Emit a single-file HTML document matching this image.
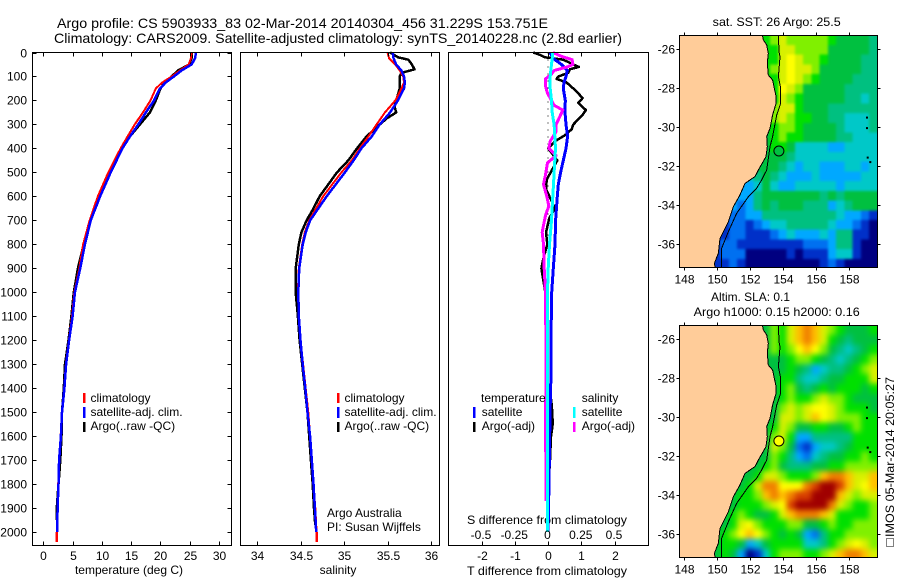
<!DOCTYPE html>
<html>
<head>
<meta charset="utf-8">
<title>Argo profile</title>
<style>
html,body{margin:0;padding:0;background:#fff;}
svg{display:block;}
text{font-family:"Liberation Sans",sans-serif;font-size:12px;fill:#000;}
.t{font-size:14px;}
</style>
</head>
<body>
<svg id="chart" xmlns="http://www.w3.org/2000/svg" width="900" height="580" viewBox="0 0 900 580">
<rect x="0" y="0" width="900" height="580" fill="#fff"/>
<text class="t" x="57" y="28" textLength="491" lengthAdjust="spacingAndGlyphs">Argo profile: CS 5903933_83 02-Mar-2014 20140304_456 31.229S 153.751E</text>
<text class="t" x="54" y="43" textLength="568" lengthAdjust="spacingAndGlyphs">Climatology: CARS2009. Satellite-adjusted climatology: synTS_20140228.nc (2.8d earlier)</text>
<defs>
<clipPath id="clip-sst"><rect x="680" y="36" width="197" height="231"/></clipPath>
<clipPath id="clip-sla"><rect x="680" y="326" width="197" height="231"/></clipPath>
<filter id="blur-sst" filterUnits="userSpaceOnUse" x="640" y="0" width="260" height="300" color-interpolation-filters="sRGB"><feGaussianBlur stdDeviation="1.3"/></filter>
<filter id="blur-sla" filterUnits="userSpaceOnUse" x="640" y="290" width="260" height="290" color-interpolation-filters="sRGB"><feGaussianBlur stdDeviation="3"/></filter>
</defs>
<text x="129" y="574" text-anchor="middle">temperature (deg C)</text>
<text x="338" y="574" text-anchor="middle">salinity</text>
<text x="547" y="575" text-anchor="middle" textLength="160" lengthAdjust="spacingAndGlyphs">T difference from climatology</text>
<text x="547" y="524" text-anchor="middle" textLength="160" lengthAdjust="spacingAndGlyphs">S difference from climatology</text>
<text x="327" y="517">Argo Australia</text>
<text x="327" y="531">PI: Susan Wijffels</text>
<text x="712.7" y="26" textLength="128" lengthAdjust="spacingAndGlyphs">sat. SST: 26 Argo: 25.5</text>
<text x="711" y="301" textLength="79" lengthAdjust="spacingAndGlyphs">Altim. SLA: 0.1</text>
<text x="693.7" y="316" textLength="166" lengthAdjust="spacingAndGlyphs">Argo h1000: 0.15 h2000: 0.16</text>
<text transform="translate(894,537) rotate(-90)" textLength="160" lengthAdjust="spacingAndGlyphs">IMOS 05-Mar-2014 20:05:27</text>
<rect x="886.5" y="538.5" width="7" height="8" fill="none" stroke="#000" stroke-width="1" stroke-dasharray="1 1" shape-rendering="crispEdges"/>
</svg>
<script>
// ---- profile data ----
const depths = [0,25,50,75,100,125,150,200,250,300,350,400,500,600,700,800,900,1000,1100,1200,1300,1400,1500,1600,1700,1800,1900,2000];
const tempClim = [25.3,25.2,24.8,23.3,21.9,20.3,19.2,18.3,17.0,15.6,14.4,13.2,11.1,9.3,7.9,6.8,6.15,5.3,4.9,4.35,3.85,3.55,3.2,2.95,2.7,2.55,2.4,2.3];
const tempSat = [26.07,25.9,25.3,23.6,22.3,20.9,19.9,18.9,17.5,16.2,14.8,13.5,11.5,9.7,8.1,7.1,6.3,5.4,5.0,4.4,3.9,3.6,3.2,3.0,2.7,2.6,2.45,2.35];
const tempArgoDepths = [0,25,50,75,100,125,150,200,250,300,350,400,500,600,700,800,900,1000,1100,1200,1300,1400,1500,1600,1700,1800,1900,1950];
const tempArgo = [25.3,25.3,24.9,23.0,21.9,20.8,20.0,19.2,18.2,16.5,14.8,13.5,11.3,9.5,8.0,6.9,5.9,5.2,4.8,4.3,3.7,3.5,3.2,3.1,2.9,2.6,2.3,2.3];

const salDepths = [0,25,50,75,100,125,150,200,250,300,350,400,450,500,600,700,750,800,900,1000,1100,1200,1300,1400,1500,1600,1700,1800,1900,2000];
const salClim = [35.5,35.52,35.59,35.64,35.68,35.69,35.66,35.59,35.47,35.375,35.28,35.18,35.09,34.97,34.76,34.6,34.55,34.52,34.48,34.47,34.48,34.5,34.53,34.56,34.59,34.61,34.63,34.65,34.67,34.685];
const salSat = [35.56,35.57,35.6,35.66,35.69,35.7,35.69,35.62,35.53,35.41,35.32,35.2,35.11,35.01,34.8,34.61,34.56,34.525,34.485,34.475,34.48,34.5,34.525,34.555,34.58,34.61,34.63,34.65,34.665,34.68];
const salArgoDepths = [0,20,30,50,70,85,100,150,200,225,250,275,300,350,400,450,500,550,600,650,700,750,800,900,1000,1100,1200,1300,1400,1500,1600,1700,1800,1900,1970];
const salArgo = [35.53,35.62,35.74,35.78,35.81,35.66,35.64,35.64,35.6,35.58,35.6,35.49,35.41,35.26,35.15,35.05,34.92,34.82,34.72,34.65,34.57,34.51,34.48,34.445,34.445,34.47,34.49,34.52,34.55,34.58,34.6,34.62,34.64,34.655,34.67];

const diffDepths = [0,25,50,75,100,125,150,200,250,300,350,400,450,500,550,600,700,800,900,1000,1100,1200,1300,1400,1500,1600,1800,2000];
const tDiffSat = [0.06,0.16,0.41,0.58,0.54,0.48,0.46,0.52,0.51,0.54,0.59,0.54,0.46,0.38,0.31,0.28,0.23,0.21,0.16,0.11,0.1,0.09,0.09,0.08,0.06,0.05,0.03,0];
const sDiffSat = [0.04,0.035,0.03,0.025,0.02,0.02,0.02,0.03,0.035,0.05,0.055,0.06,0.055,0.05,0.045,0.04,0.03,0.015,0.005,0,0,0,0,0,0,0,0,0];
const tDiffArgoDepths = [0,10,20,30,40,50,60,70,85,100,110,125,150,175,190,210,240,260,300,320,345,370,400,450,480,530,570,620,650,690,750,800,860,900,950,1000,1100,1200,1300,1400,1450,1500,1550,1600,1700,1750,1800];
const tDiffArgo = [-0.44,-0.24,-0.09,0.46,0.61,0.76,0.93,0.66,0.61,0.31,0.26,0.56,0.76,0.94,1.04,0.91,1.14,1.04,0.76,0.71,0.51,0.21,0.01,0.28,0.16,-0.04,-0.06,0.11,0.21,0.04,-0.06,-0.02,-0.14,-0.2,-0.14,-0.08,-0.06,-0.06,-0.04,-0.02,0.1,0.13,0.14,0.09,0.06,0.04,0.02];
const sDiffArgoDepths = [0,15,30,50,60,75,90,110,140,170,190,220,240,270,300,330,370,400,430,460,510,550,600,640,680,720,750,800,900,1000,1100,1200,1300,1400,1500,1600,1700,1750,1870];
const sDiffArgo = [0.04,0.1,0.185,0.19,0.15,0.05,0.03,-0.015,-0.015,0,0.02,0.05,0.115,0.09,0.065,0.065,0.02,0.01,0.065,0,-0.015,-0.03,-0.005,0.01,-0.015,-0.03,-0.04,-0.03,-0.025,-0.015,-0.015,-0.01,-0.01,-0.012,-0.015,-0.015,-0.012,-0.01,-0.01];

// ---- tick labels ----
const depthTicks = [0,100,200,300,400,500,600,700,800,900,1000,1100,1200,1300,1400,1500,1600,1700,1800,1900,2000];
const tempTicks = [0,5,10,15,20,25,30];
const salTicks = [34,34.5,35,35.5,36];
const tDiffTicks = [-2,-1,0,1,2];
const sDiffTicks = [-0.5,-0.25,0,0.25,0.5];
const lonTicks = [148,150,152,154,156,158];
const latTicks = [-26,-28,-30,-32,-34,-36];

// ---- map data: colour level per grid cell ----
const mapLons = [147.97,148.47,148.97,149.47,149.97,150.47,150.97,151.47,151.97,152.47,152.97,153.47,153.97,154.47,154.97,155.47,155.97,156.47,156.97,157.47,157.97,158.47,158.97,159.47];
const mapLats = [-25.53,-26.03,-26.53,-27.03,-27.53,-28.03,-28.53,-29.03,-29.53,-30.03,-30.53,-31.03,-31.53,-32.03,-32.53,-33.03,-33.53,-34.03,-34.53,-35.03,-35.53,-36.03,-36.53,-37.03];
const sstLevels = [
[7,7,7,7,7,7,7,7,7,7,7,8,9,8,8,8,8,8,7,6,6,6,6,5],
[7,7,7,7,7,7,7,7,7,7,7,7,9,9,8,8,8,8,6,6,6,6,6,5],
[7,7,7,7,7,7,7,7,7,7,7,7,9,10,9,8,8,7,6,6,6,6,5,5],
[7,7,7,7,7,7,7,7,7,7,7,8,9,10,9,9,8,6,6,6,6,6,5,5],
[7,7,7,7,7,7,7,7,7,7,7,7,9,10,9,8,7,6,6,6,6,5,5,5],
[7,7,7,7,7,7,7,7,7,7,7,7,10,9,8,6,6,6,6,6,5,5,5,5],
[7,7,7,7,7,7,7,7,7,7,7,7,9,8,7,6,6,6,6,6,5,5,4,5],
[7,7,7,7,7,7,7,7,7,7,7,8,9,9,7,6,6,6,5,5,5,5,5,5],
[7,7,7,7,7,7,7,7,7,7,7,8,9,8,7,7,6,6,5,5,4,4,4,5],
[7,7,7,7,7,7,7,7,7,7,7,7,8,8,7,6,6,6,6,5,4,4,4,5],
[6,6,6,6,6,6,6,6,6,6,6,7,8,7,7,6,6,6,6,5,5,4,4,4],
[6,6,6,6,6,6,6,6,6,6,6,7,7,6,4,4,4,4,3,3,4,4,4,4],
[6,6,6,6,6,6,6,6,6,6,6,6,6,5,4,4,4,4,4,4,4,4,4,4],
[6,6,6,6,6,6,6,6,6,6,6,6,5,4,3,4,4,3,3,3,4,4,3,4],
[4,4,4,4,4,4,4,4,4,5,6,5,4,3,3,3,4,3,3,3,3,3,4,4],
[3,3,3,3,3,3,3,3,3,4,6,4,3,3,4,4,4,4,4,3,4,4,4,4],
[3,3,3,3,3,3,3,3,3,5,6,6,6,6,6,6,6,5,6,5,6,6,6,6],
[3,3,3,3,3,3,3,2,3,5,6,5,6,6,6,5,5,5,3,4,5,6,6,6],
[2,2,2,2,2,2,2,2,3,3,5,5,5,5,5,5,5,5,5,4,3,3,2,1],
[1,1,1,1,1,1,2,2,1,2,3,4,4,5,5,5,5,5,4,3,3,2,1,0],
[1,1,1,1,1,1,2,2,1,1,1,2,3,4,3,3,3,4,3,5,5,1,1,0],
[1,1,1,1,1,2,2,1,1,1,1,1,1,1,1,2,2,2,3,5,5,1,0,0],
[1,1,1,1,1,2,2,2,0,0,0,0,0,1,0,1,1,1,3,4,4,1,0,0],
[1,1,1,1,1,1,2,1,0,0,0,0,0,0,0,0,0,1,2,1,0,0,0,0]
];
const slaLevels = [
[6,6,6,6,6,6,6,6,6,6,6,8,7,9,11,12,11,9,8,7,6,6,6,7],
[6,6,6,6,6,6,6,6,6,6,6,8,7,9,11,12,11,9,7,6,5,6,6,6],
[6,6,6,6,6,6,6,6,6,6,6,8,7,8,10,11,10,8,6,5,4,5,6,7],
[6,6,6,6,6,6,6,6,6,6,6,6,6,7,8,8,7,6,5,4,5,6,7,8],
[6,6,6,6,6,6,6,6,6,6,6,6,6,7,6,5,3,4,5,5,6,7,8,9],
[6,6,6,6,6,6,6,6,6,6,6,6,7,7,5,4,4,5,6,6,7,7,7,9],
[6,6,6,6,6,6,6,6,6,6,6,6,7,8,6,5,6,7,6,7,7,7,6,7],
[6,6,6,6,6,6,6,6,6,6,6,6,7,8,7,7,8,9,8,8,7,6,6,6],
[6,6,6,6,6,6,6,6,6,6,6,6,8,9,8,9,10,10,9,8,7,7,7,6],
[6,6,6,6,6,6,6,6,6,6,6,6,9,9,8,9,11,10,9,8,8,8,7,7],
[6,6,6,6,6,6,6,6,6,6,6,7,9,8,6,6,7,7,6,6,7,8,7,7],
[6,6,6,6,6,6,6,6,6,6,6,8,9,7,3,3,5,5,5,5,5,7,7,7],
[6,6,6,6,6,6,6,6,6,6,6,9,8,6,2,1,3,4,4,5,6,7,7,7],
[6,6,6,6,6,6,6,6,6,6,6,8,7,5,3,2,4,5,6,6,7,7,8,7],
[6,6,6,6,6,6,6,6,6,6,7,8,6,5,5,5,6,6,7,7,8,8,8,8],
[6,6,6,6,6,6,6,6,6,7,9,9,8,7,7,7,8,11,12,12,11,9,9,11],
[6,6,6,6,6,6,6,6,7,9,12,12,10,10,10,12,13,14,14,13,11,9,10,11],
[6,6,6,6,6,6,6,7,7,8,11,12,11,12,13,13,14,14,14,11,9,8,9,9],
[6,6,6,6,6,6,6,7,7,7,8,9,10,13,14,14,14,14,12,9,8,7,7,8],
[6,6,6,6,6,6,7,8,7,6,6,7,9,11,12,12,12,11,9,7,7,7,7,8],
[6,6,6,6,6,6,7,9,10,8,7,7,7,8,8,6,6,7,8,7,7,8,8,8],
[6,6,6,6,6,7,8,10,11,10,8,7,6,7,6,3,2,5,7,7,8,8,8,8],
[6,6,6,6,6,7,7,6,3,4,6,7,7,7,7,4,4,5,7,8,9,10,9,8],
[6,6,6,6,6,7,6,3,0,1,4,7,8,8,8,7,7,8,9,11,12,12,11,9]
];
const coastLon = [152.75,152.81,153.01,153.11,153.05,153.11,153.37,153.58,153.58,153.37,153.21,153.01,153.05,152.97,152.51,152.30,151.70,151.39,150.99,150.69,150.18,150.08,149.84,149.88];
const coastLat = [-25.28,-25.52,-25.78,-26.21,-26.72,-27.32,-27.58,-28.44,-28.78,-29.38,-30.07,-30.49,-31.01,-31.52,-32.21,-32.55,-32.90,-33.50,-34.10,-34.87,-35.73,-36.50,-37.01,-37.20];
const isobathLon = [153.72,153.76,153.82,153.72,153.86,153.86,153.62,153.37,153.21,153.01,152.71,152.40,151.90,151.19,150.69,150.28,150.28];
const isobathLat = [-25.28,-26.12,-26.38,-27.41,-28.01,-28.78,-29.38,-30.49,-31.01,-32.21,-32.72,-33.15,-33.58,-34.44,-35.38,-36.24,-37.20];
const islandLon = [159.03,159.03,159.07,159.23];
const islandLat = [-29.46,-30.0,-31.52,-31.75];
const argoLon = 153.751;
const argoLat = -31.229;

const palette = ['#000080','#0030c8','#0070f0','#00a8ff','#00c8c8','#00c080','#00c040','#00e000','#80f000','#d8f000','#ffff00','#ffc000','#f08000','#d84000','#a00000'];

// ---- scales ----
const yDepth = d => 52.5 + d * 0.23985;
const xTemp = v => 43.3 + v * 5.857;
const xSal = v => 257 + (v - 34) * 87;
const xTDiff = v => 548 + v * 33.25;
const xSDiff = v => 547.5 + v * 133;
const xLon = v => 684 + (v - 148) * 16.5;
const yLat = (v, top) => top + 49.3 + (-26 - v) * 19.44;

const svg = document.getElementById('chart');
const NS = 'http://www.w3.org/2000/svg';
function mk(tag, attrs, txt) {
  const n = document.createElementNS(NS, tag);
  for (const k in attrs) n.setAttribute(k, attrs[k]);
  if (txt !== undefined) n.textContent = txt;
  svg.appendChild(n);
  return n;
}
function line(x1, y1, x2, y2, name) {
  const n = mk('line', {x1: x1, y1: y1, x2: x2, y2: y2, stroke: '#000', 'stroke-width': 1, 'shape-rendering': 'crispEdges'});
  
  
  return n;
}
function label(x, y, txt, anchor, name) {
  const n = mk('text', {x: x, y: y, 'text-anchor': anchor}, txt);
  
  
  return n;
}
function series(xs, ds, xf, color, w, name) {
  const pts = xs.map((v, i) => xf(v).toFixed(1) + ',' + yDepth(ds[i]).toFixed(1)).join(' ');
  const n = mk('polyline', {points: pts, fill: 'none', stroke: color, 'stroke-width': w, 'shape-rendering': 'crispEdges', 'stroke-linejoin': 'round'});
  
  
  return n;
}
function frame(l, t, r, b, name) {
  const n = mk('rect', {x: l, y: t, width: r - l, height: b - t, fill: 'none', stroke: '#000', 'stroke-width': 1, 'shape-rendering': 'crispEdges'});
  
  
  return n;
}
function swatch(x, y1, y2, color, name) {
  const n = mk('rect', {x: x - 1, y: y1, width: 2.5, height: y2 - y1, fill: color, 'shape-rendering': 'crispEdges'});
  
  
  return n;
}

const P1 = {l: 32.5, r: 231.5};
const P2 = {l: 240.5, r: 439.5};
const P3 = {l: 448.5, r: 648.5};
const PT = 52.5, PB = 545.5;

// ---- panel 1: temperature ----
series(tempArgo, tempArgoDepths, xTemp, '#000', 2.5, 'temperature-argo-line');
series(tempClim, depths, xTemp, '#f00', 2, 'temperature-climatology-line');
series(tempClim.slice(-1).concat(tempClim.slice(-1)), [2000, 2040], xTemp, '#f00', 2.5, 'temperature-climatology-bottom');
series(tempSat, depths, xTemp, '#00f', 2.5, 'temperature-satellite-line');
frame(P1.l, PT, P1.r, PB, 'temperature-plot-frame');
depthTicks.forEach(d => {
  const y = Math.round(yDepth(d)) + 0.5;
  line(P1.l, y, P1.l + 4, y, 'depth-tick-left');
  line(P1.r - 4, y, P1.r, y, 'depth-tick-right');
  label(27, y + 4, String(d), 'end', 'depth-tick-label');
});
tempTicks.forEach(v => {
  const x = Math.round(xTemp(v)) + 0.5;
  line(x, PT, x, PT + 4, 'temperature-tick-top');
  line(x, PB - 4, x, PB, 'temperature-tick-bottom');
  label(x, 560, String(v), 'middle', 'temperature-tick-label');
});
swatch(84, 393, 403, '#f00', 'legend-temperature-climatology-swatch');
swatch(84, 407, 418, '#00f', 'legend-temperature-satellite-swatch');
swatch(84, 422, 432, '#000', 'legend-temperature-argo-swatch');
label(90.5, 402, 'climatology', 'start', 'legend-temperature-climatology');
label(90.5, 416, 'satellite-adj. clim.', 'start', 'legend-temperature-satellite');
label(90.5, 430, 'Argo(..raw -QC)', 'start', 'legend-temperature-argo');

// ---- panel 2: salinity ----
series(salArgo, salArgoDepths, xSal, '#000', 2.5, 'salinity-argo-line');
series(salClim, salDepths, xSal, '#f00', 2, 'salinity-climatology-line');
series(salClim.slice(-1).concat(salClim.slice(-1)), [2000, 2040], xSal, '#f00', 2.5, 'salinity-climatology-bottom');
series(salSat, salDepths, xSal, '#00f', 2.5, 'salinity-satellite-line');
frame(P2.l, PT, P2.r, PB, 'salinity-plot-frame');
salTicks.forEach(v => {
  const x = Math.round(xSal(v)) + 0.5;
  line(x, PT, x, PT + 4, 'salinity-tick-top');
  line(x, PB - 4, x, PB, 'salinity-tick-bottom');
  label(x, 560, String(v), 'middle', 'salinity-tick-label');
});
swatch(338, 393, 403, '#f00', 'legend-salinity-climatology-swatch');
swatch(338, 407, 418, '#00f', 'legend-salinity-satellite-swatch');
swatch(338, 422, 432, '#000', 'legend-salinity-argo-swatch');
label(344.5, 402, 'climatology', 'start', 'legend-salinity-climatology');
label(344.5, 416, 'satellite-adj. clim.', 'start', 'legend-salinity-satellite');
label(344.5, 430, 'Argo(..raw -QC)', 'start', 'legend-salinity-argo');

// ---- panel 3: differences ----
const zeroLine = line(xTDiff(0), PT, xTDiff(0), yDepth(1900), 'zero-difference-line');
zeroLine.setAttribute('stroke-dasharray', '1 6');
series(tDiffArgo, tDiffArgoDepths, xTDiff, '#000', 2.5, 't-difference-argo-line');
series(tDiffSat, diffDepths, xTDiff, '#00f', 3, 't-difference-satellite-line');
series(sDiffArgo, sDiffArgoDepths, xSDiff, '#f0f', 3, 's-difference-argo-line');
series(sDiffSat, diffDepths, xSDiff, '#0ff', 3, 's-difference-satellite-line');
frame(P3.l, PT, P3.r, PB, 'difference-plot-frame');
tDiffTicks.forEach(v => {
  const x = Math.round(xTDiff(v)) + 0.5;
  line(x, PT, x, PT + 4, 't-difference-tick-top');
  line(x, PB - 4, x, PB, 't-difference-tick-bottom');
  label(x, 560, String(v), 'middle', 't-difference-tick-label');
});
sDiffTicks.forEach(v => {
  label(xSDiff(v), 539, String(v), 'middle', 's-difference-tick-label');
});
label(481, 402, 'temperature', 'start', 'legend-difference-temperature-heading');
label(481.7, 416, 'satellite', 'start', 'legend-t-satellite');
label(481.7, 430, 'Argo(-adj)', 'start', 'legend-t-argo');
label(581.7, 402, 'salinity', 'start', 'legend-difference-salinity-heading');
label(581.7, 416, 'satellite', 'start', 'legend-s-satellite');
label(581.7, 430, 'Argo(-adj)', 'start', 'legend-s-argo');
swatch(474, 407, 418, '#00f', 'legend-t-satellite-swatch');
swatch(474, 422, 432, '#000', 'legend-t-argo-swatch');
swatch(574, 407, 418, '#0ff', 'legend-s-satellite-swatch');
swatch(574, 422, 432, '#f0f', 'legend-s-argo-swatch');

// ---- maps ----
function drawMap(levels, top, clipId, blurId, argoLevel, prefix) {
  const g = document.createElementNS(NS, 'g');
  g.setAttribute('clip-path', 'url(#' + clipId + ')');
  
  
  svg.appendChild(g);
  const field = document.createElementNS(NS, 'g');
  field.setAttribute('filter', 'url(#' + blurId + ')');
  
  
  g.appendChild(field);
  const cw = 8.25, ch = 9.72, bleed = 14;
  levels.forEach((row, r) => {
    row.forEach((v, c) => {
      const n = document.createElementNS(NS, 'rect');
      const padL = c === 0 ? bleed : 0;
      const padR = c === row.length - 1 ? bleed : 0;
      const padT = r === 0 ? bleed : 0;
      const padB = r === levels.length - 1 ? bleed : 0;
      n.setAttribute('x', (xLon(mapLons[c]) - cw / 2 - padL).toFixed(2));
      n.setAttribute('y', (yLat(mapLats[r], top) - ch / 2 - padT).toFixed(2));
      n.setAttribute('width', cw + 0.4 + padL + padR);
      n.setAttribute('height', ch + 0.4 + padT + padB);
      n.setAttribute('fill', palette[v]);
      n.setAttribute('shape-rendering', 'crispEdges');
      
      
      field.appendChild(n);
    });
  });
  const coastPts = coastLon.map((v, i) => xLon(v).toFixed(1) + ',' + yLat(coastLat[i], top).toFixed(1));
  const leftX = xLon(147.5).toFixed(1);
  const landPts = coastPts.concat([leftX + ',' + yLat(-37.5, top).toFixed(1), leftX + ',' + yLat(-25, top).toFixed(1)]).join(' ');
  const land = document.createElementNS(NS, 'polygon');
  land.setAttribute('points', landPts);
  land.setAttribute('fill', '#ffcc99');
  
  
  g.appendChild(land);
  const coast = document.createElementNS(NS, 'polyline');
  coast.setAttribute('points', coastPts.join(' '));
  coast.setAttribute('fill', 'none');
  coast.setAttribute('stroke', '#000');
  coast.setAttribute('stroke-width', '1');
  coast.setAttribute('shape-rendering', 'crispEdges');
  
  
  g.appendChild(coast);
  const iso = document.createElementNS(NS, 'polyline');
  iso.setAttribute('points', isobathLon.map((v, i) => xLon(v).toFixed(1) + ',' + yLat(isobathLat[i], top).toFixed(1)).join(' '));
  iso.setAttribute('fill', 'none');
  iso.setAttribute('stroke', '#000');
  iso.setAttribute('stroke-width', '1');
  iso.setAttribute('shape-rendering', 'crispEdges');
  
  
  g.appendChild(iso);
  islandLon.forEach((v, i) => {
    const n = document.createElementNS(NS, 'rect');
    n.setAttribute('x', xLon(v).toFixed(1));
    n.setAttribute('y', yLat(islandLat[i], top).toFixed(1));
    n.setAttribute('width', 2);
    n.setAttribute('height', 2);
    n.setAttribute('fill', '#000');
    
    
    g.appendChild(n);
  });
  const marker = mk('circle', {cx: xLon(argoLon).toFixed(1), cy: yLat(argoLat, top).toFixed(1), r: 5, fill: palette[argoLevel], stroke: '#000', 'stroke-width': 1});
  
  
  const L = 679.5, R = 877.5, T = top + 35.5, B = top + 267.5;
  frame(L, T, R, B, prefix + '-map-frame');
  lonTicks.forEach(v => {
    const x = Math.round(xLon(v)) + 0.5;
    line(x, T - 3, x, T, prefix + '-map-lon-tick-top');
    line(x, B, x, B + 3, prefix + '-map-lon-tick-bottom');
    label(x, B + 16, String(v), 'middle', prefix + '-map-lon-label');
  });
  latTicks.forEach(v => {
    const y = Math.round(yLat(v, top)) + 0.5;
    line(L - 3, y, L, y, prefix + '-map-lat-tick-left');
    line(R, y, R + 3, y, prefix + '-map-lat-tick-right');
    label(675, y + 4, String(v), 'end', prefix + '-map-lat-label');
  });
}
drawMap(sstLevels, 0, 'clip-sst', 'blur-sst', 6, 'sst');
drawMap(slaLevels, 290, 'clip-sla', 'blur-sla', 10, 'sla');
</script>
</body>
</html>
